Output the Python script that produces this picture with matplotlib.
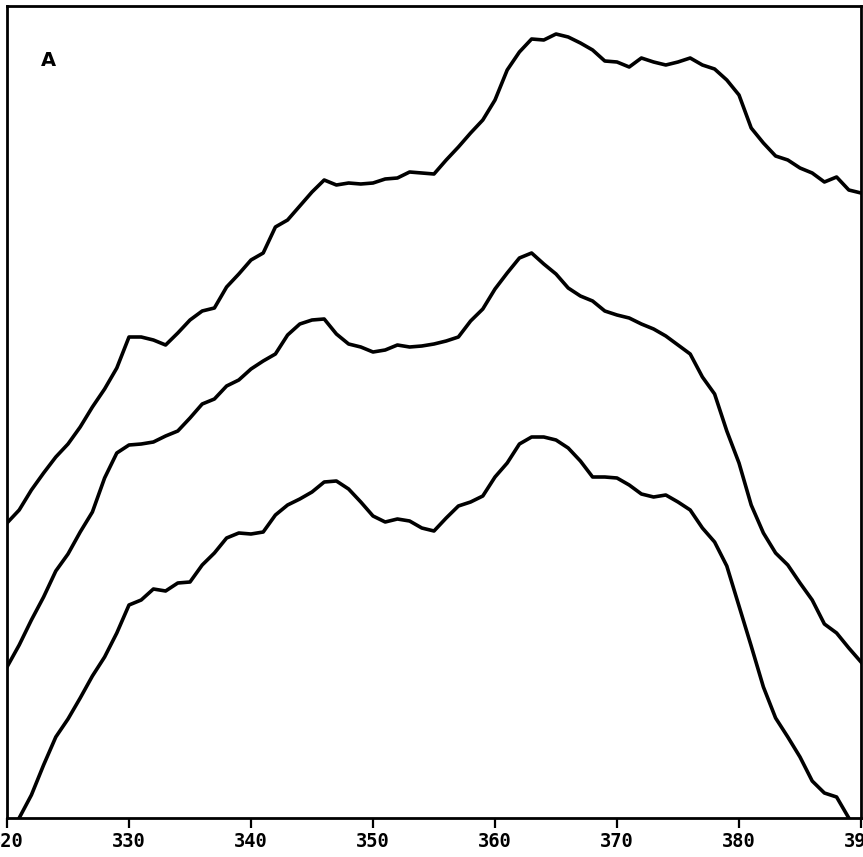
import numpy as np
import matplotlib
matplotlib.use("Agg")
import matplotlib.pyplot as plt

# wavelength grid (nm) and the three traces (arbitrary units)
wl = np.arange(320, 391)

top = [295, 308, 328, 345, 361, 374, 391, 411, 429, 450,
       481, 481, 478, 473, 485, 498, 507, 510, 531, 544,
       558, 565, 591, 598, 612, 626, 638, 633, 635, 634,
       635, 639, 640, 646, 645, 644, 658, 671, 685, 698,
       718, 748, 766, 779, 778, 784, 781, 775, 768, 757,
       756, 751, 760, 756, 753, 756, 760, 753, 749, 738,
       723, 690, 675, 662, 658, 650, 645, 636, 641, 628,
       625]

middle = [151, 173, 198, 221, 247, 264, 286, 306, 340, 365,
          373, 374, 376, 382, 387, 400, 414, 419, 432, 438,
          449, 457, 464, 483, 494, 498, 499, 484, 474, 471,
          466, 468, 473, 471, 472, 474, 477, 481, 497, 509,
          529, 545, 560, 565, 554, 544, 530, 522, 517, 507,
          503, 500, 494, 489, 482, 473, 464, 441, 424, 387,
          355, 313, 285, 265, 253, 235, 218, 194, 185, 170,
          156]

wl_low = np.arange(321, 390)
bottom = [0, 23, 53, 81, 99, 120, 142, 161, 185,
          213, 218, 229, 227, 235, 236, 253, 265, 280, 285,
          284, 286, 303, 313, 319, 326, 336, 337, 329, 316,
          302, 296, 299, 297, 290, 287, 300, 312, 316, 322,
          341, 355, 374, 381, 381, 378, 370, 357, 341, 341,
          340, 333, 324, 321, 323, 316, 308, 290, 276, 252,
          212, 172, 131, 100, 81, 61, 37, 25, 21, 0]

xticks = np.arange(320, 391, 10)

fig = plt.figure(figsize=(8.63, 8.57), dpi=100)
ax = fig.add_axes([7/863, 1 - 818/857, 854/863, 812/857])

for y in (top, middle):
    ax.plot(wl, y, color="black", lw=2.6, solid_joinstyle="round")
ax.plot(wl_low, bottom, color="black", lw=2.6, solid_joinstyle="round")

ax.set_xlim(320, 390)
ax.set_ylim(0, 812)
ax.set_xticks(xticks)
ax.set_xticklabels([str(t) for t in xticks], family="DejaVu Sans Mono",
                   fontweight="bold", fontsize=13.5)
ax.set_yticks([])
ax.tick_params(axis="x", direction="out", length=7, width=1.6, pad=3)
for s in ax.spines.values():
    s.set_linewidth(2.0)

ax.text(0.048, 0.933, "A", transform=ax.transAxes, fontsize=14,
        fontweight="bold", ha="center", va="center")

fig.savefig("out.png", dpi=100)
